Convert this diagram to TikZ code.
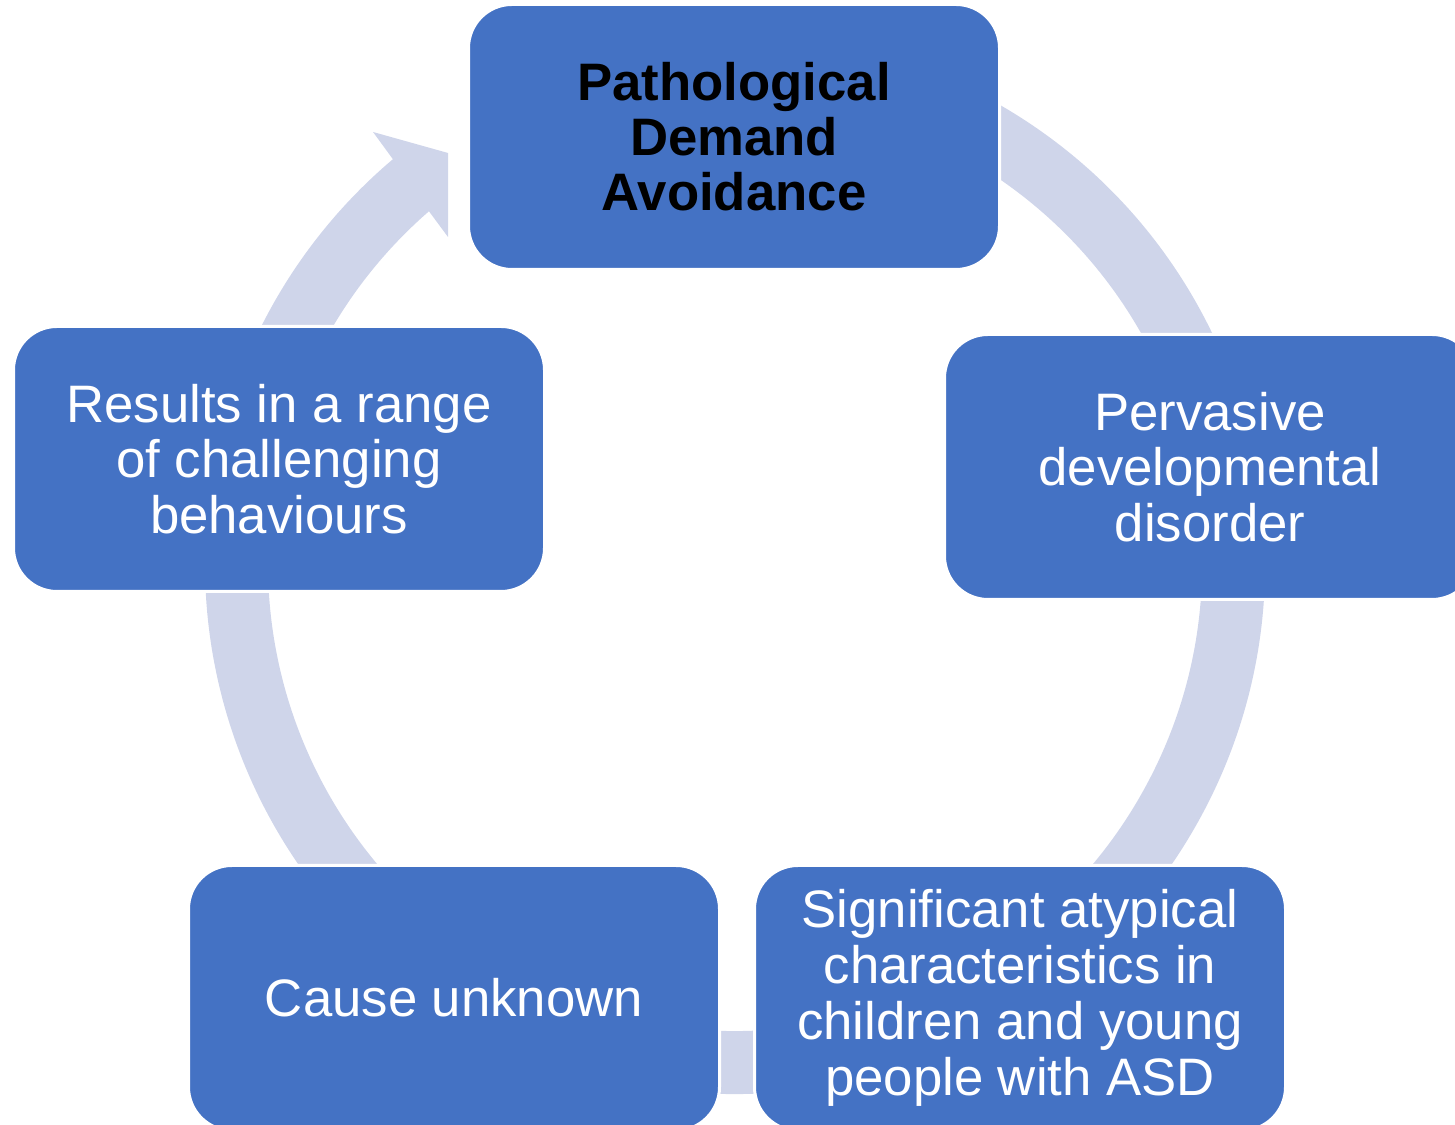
\documentclass[tikz,border=0pt]{standalone}
\usepackage{fontspec}
\setmainfont{Liberation Sans}
\usetikzlibrary{positioning}
\definecolor{sblue}{HTML}{4472C4}
\definecolor{slav}{HTML}{CFD5EA}
\tikzset{
  % Filled blue stage box with a thin white rim, as in the cycle layout.
  stage/.style = {rectangle, rounded corners=0.87cm, draw=white, line width=0.06cm, fill=sblue,
                  minimum width=10.62cm, minimum height=5.3cm, align=center, text=white,
                  inner sep=0pt, font=\fontsize{30}{31.75}\selectfont},
  ring/.style  = {slav, line width=1.26cm},
}

\begin{document}
\begin{tikzpicture}
\useasboundingbox (0,0) rectangle (29.1,22.5);
\clip (0,0) rectangle (29.1,22.5);
\coordinate (hub) at (14.7,11.22);
% ring behind the stages, ending in a head at the top stage
\draw[ring] ([shift={(60:9.97)}]hub) arc[start angle=60, end angle=-230.5, radius=9.97];
\fill[slav] (7.84,19.34) -- (7.46,19.86) -- (8.96,19.44) -- (8.96,17.76) -- (8.56,18.30) -- cycle;
\node[stage, text=black, font=\fontsize{30}{31.2}\selectfont\bfseries] (pda) at (14.68,19.76) {Pathological\\Demand\\Avoidance};
\node[stage] (ppd)   at (24.2,13.16) {Pervasive\\developmental\\disorder};
\node[stage] (asd)   at (20.4,2.54)  {Significant atypical\\characteristics in\\children and young\\people with ASD};
\node[stage] (cause) at (9.08,2.54)  {Cause unknown};
\node[stage] (range) at (5.58,13.32) {Results in a range\\of challenging\\behaviours};
\end{tikzpicture}
\end{document}
